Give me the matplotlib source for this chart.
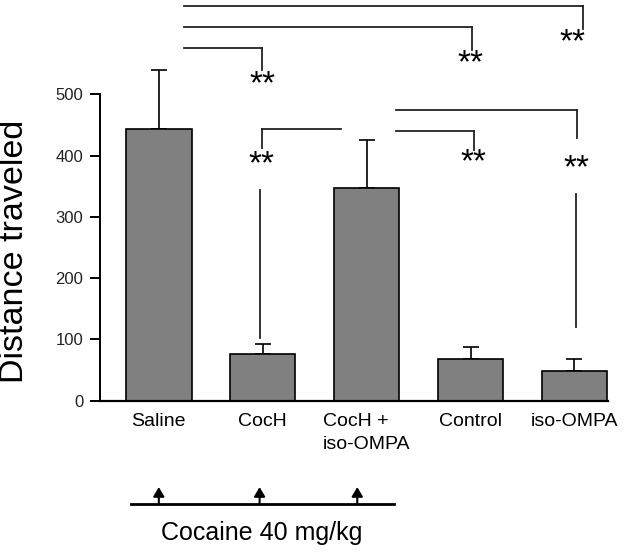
import matplotlib
matplotlib.use("Agg")
import matplotlib.pyplot as plt

plt.rcParams['font.family'] = ['Liberation Sans', 'DejaVu Sans']

groups = ["Saline", "CocH", "CocH +\niso-OMPA", "Control", "iso-OMPA"]
distance = [443, 76, 347, 68, 49]
sem = [96, 17, 78, 20, 19]
y_ticks = [0, 100, 200, 300, 400, 500]

# significance brackets: (x start, x end, y of line, y of drop end, stars x, stars y)
brackets = [
    (0.24, 4.08, 644, 607, 3.98, 592),
    (0.24, 3.01, 609, 572, 3.00, 557),
    (0.24, 0.99, 576, 540, 1.00, 523),
    (1.75, 0.99, 443, 412, 0.99, 393),
    (2.28, 3.03, 440, 409, 3.03, 397),
    (2.28, 4.02, 474, 428, 4.02, 386),
]
# long vertical lines from bracket stars down to bars
verticals = [(0.975, 343, 102), (4.015, 338, 121)]

cocaine_arrows = [0, 0.97, 1.91]

fig = plt.figure(figsize=(6.42, 5.54), dpi=100)
ax = fig.add_axes([100 / 642, 1 - 400.7 / 554, 508 / 642, 400.7 / 554])

x = list(range(len(groups)))
ax.bar(x, distance, width=0.63, color="#808080", edgecolor="black", linewidth=1.2, zorder=2)
ax.errorbar(x, distance, yerr=[[0] * len(sem), sem], fmt="none", ecolor="black",
            elinewidth=1.2, capsize=6, capthick=1.2, zorder=1)

ax.set_xlim(-0.566, 4.323)
ax.set_ylim(0, 653.7)
ax.set_yticks(y_ticks)
ax.set_yticklabels([str(t) for t in y_ticks], fontsize=12, color="#222222")
ax.set_xticks(x)
ax.set_xticklabels(groups, fontsize=14, linespacing=1.45, multialignment="left")
ax.tick_params(axis="x", length=0, pad=9)
ax.tick_params(axis="y", length=7, width=1.4, pad=5)
for s in ["top", "right"]:
    ax.spines[s].set_visible(False)
ax.spines["left"].set_bounds(0, 500)
ax.spines["left"].set_linewidth(1.4)
ax.spines["bottom"].set_linewidth(1.6)

for x0, x1, yl, yd, sx, sy in brackets:
    ax.plot([x0, x1], [yl, yl], color="#222222", lw=1.3, clip_on=False)
    ax.plot([x1, x1], [yl, yd], color="#222222", lw=1.3, clip_on=False)
    ax.text(sx, sy - 22, "**", fontsize=24, ha="center", va="baseline", clip_on=False)
for vx, y0, y1 in verticals:
    ax.plot([vx, vx], [y0, y1], color="#222222", lw=1.3, clip_on=False)

fig.text(15 / 642, 1 - 251 / 554, "Distance traveled", rotation=90, fontsize=24.5,
         ha="center", va="center")

# cocaine treatment line with arrows
ax.plot([-0.27, 2.26], [-168.5, -168.5], color="black", lw=2, clip_on=False)
for ax_x in cocaine_arrows:
    ax.annotate("", xy=(ax_x, -141), xytext=(ax_x, -168.5), annotation_clip=False,
                arrowprops=dict(arrowstyle="-|>,head_length=0.55,head_width=0.33",
                                color="black", lw=1.5, shrinkA=0, shrinkB=0))
ax.text(0.99, -216, "Cocaine 40 mg/kg", fontsize=18, ha="center", va="center", clip_on=False)

plt.savefig("out.png", dpi=100)
